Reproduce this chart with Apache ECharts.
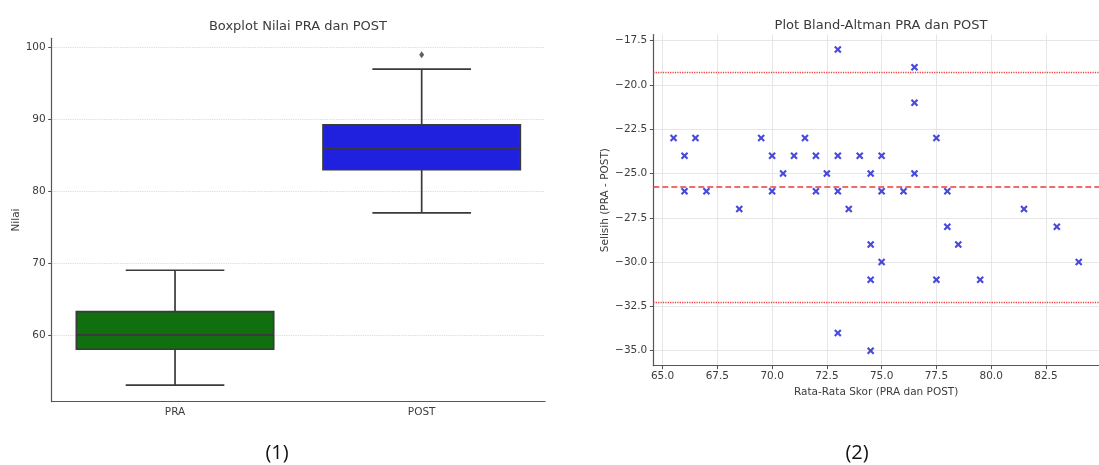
<!DOCTYPE html>
<html><head><meta charset="utf-8">
<script src="https://cdn.jsdelivr.net/npm/echarts@6/dist/echarts.min.js"></script>
<style>html,body{margin:0;padding:0;background:#fff;} #c{width:1099px;height:465px;}</style>
</head><body><div id="c"></div>
<script>
// ---- Data: boxplot (min, q1, median, q3, max) ----
const categories = ['PRA', 'POST'];
const praStats = [53, 58, 60, 63.25, 69];
const postStats = [77, 83, 86, 89.25, 97];
const postOutliers = [99];
const boxTicks = [60, 70, 80, 90, 100];

// ---- Data: Bland-Altman ----
const meanScores = [65.5, 66, 66, 66.5, 67, 68.5, 69.5, 70, 70, 70.5, 71, 71.5, 72, 72, 72.5,
  73, 73, 73, 73, 73.5, 74, 74.5, 74.5, 74.5, 74.5, 75, 75, 75, 76, 76.5, 76.5, 76.5,
  77.5, 77.5, 78, 78, 78.5, 79.5, 81.5, 83, 84];
const differences = [-23, -24, -26, -23, -26, -27, -23, -24, -26, -25, -24, -23, -24, -26, -25,
  -18, -24, -26, -34, -27, -24, -25, -29, -31, -35, -24, -26, -30, -26, -19, -21, -25,
  -23, -31, -26, -28, -29, -31, -27, -28, -30];
const meanDiff = -25.75;
const upperLimit = -19.27;
const lowerLimit = -32.27;
const xTicks = [65, 67.5, 70, 72.5, 75, 77.5, 80, 82.5];
const yTicks = [-35, -32.5, -30, -27.5, -25, -22.5, -20, -17.5];

// ---- Styles ----
const FONT = 'DejaVu Sans';
const boxColors = ['#107010', '#2020df'];
const edge = '#3a3a3a';
const axisColor = '#555';
const labelColor = '#3c3c3c';

function renderBox(params, api) {
  const cat = api.value(0);
  const band = api.size([1, 0])[0];
  const boxW = band * 0.8, capW = band * 0.4;
  const pMin = api.coord([cat, api.value(1)]);
  const pQ1 = api.coord([cat, api.value(2)]);
  const pMed = api.coord([cat, api.value(3)]);
  const pQ3 = api.coord([cat, api.value(4)]);
  const pMax = api.coord([cat, api.value(5)]);
  const cx = pMin[0];
  const ls = { stroke: edge, lineWidth: 1.7 };
  return {
    type: 'group',
    children: [
      { type: 'line', shape: { x1: cx, y1: pQ1[1], x2: cx, y2: pMin[1] }, style: ls },
      { type: 'line', shape: { x1: cx, y1: pQ3[1], x2: cx, y2: pMax[1] }, style: ls },
      { type: 'line', shape: { x1: cx - capW / 2, y1: pMin[1], x2: cx + capW / 2, y2: pMin[1] }, style: ls },
      { type: 'line', shape: { x1: cx - capW / 2, y1: pMax[1], x2: cx + capW / 2, y2: pMax[1] }, style: ls },
      { type: 'rect', shape: { x: cx - boxW / 2, y: pQ3[1], width: boxW, height: pQ1[1] - pQ3[1] },
        style: { fill: boxColors[params.dataIndex], stroke: edge, lineWidth: 1.7 } },
      { type: 'line', shape: { x1: cx - boxW / 2, y1: pMed[1], x2: cx + boxW / 2, y2: pMed[1] }, style: { stroke: edge, lineWidth: 2 } }
    ]
  };
}

const boxData = [praStats, postStats].map((s, i) => [i].concat(s));
const outlierData = postOutliers.map(v => [categories.indexOf('POST'), v]);
const baData = meanScores.map((m, i) => [m, differences[i]]);

const fmt1 = v => (v < 0 ? '\u2212' : '') + Math.abs(v).toFixed(1);

const chart = echarts.init(document.getElementById('c'), null, { renderer: 'canvas' });
chart.setOption({
  animation: false,
  backgroundColor: '#fff',
  textStyle: { fontFamily: FONT },
  grid: [
    { left: 51.7, top: 38.3, width: 493.3, height: 363.4 },
    { left: 653.3, top: 34.5, width: 455.3, height: 331.2 }
  ],
  xAxis: [
    {
      type: 'category', gridIndex: 0, data: categories, boundaryGap: true,
      axisLine: { lineStyle: { color: axisColor, width: 1.2 } },
      axisTick: { alignWithLabel: true, length: 3.5, lineStyle: { color: axisColor } },
      axisLabel: { color: labelColor, fontSize: 10.5, margin: 5, fontFamily: FONT },
      splitLine: { show: false }
    },
    {
      type: 'value', gridIndex: 1, min: 64.575, max: 84.925,
      name: 'Rata-Rata Skor (PRA dan POST)', nameLocation: 'middle', nameGap: 17,
      nameTextStyle: { color: labelColor, fontSize: 10.5, fontFamily: FONT },
      axisLine: { show: true, lineStyle: { color: axisColor, width: 1.2 } },
      axisTick: { show: true, length: 3.5, customValues: xTicks, lineStyle: { color: axisColor } },
      axisLabel: { customValues: xTicks, formatter: fmt1, color: labelColor, fontSize: 10.5, margin: 5, fontFamily: FONT },
      splitLine: { show: true, lineStyle: { color: '#e3e3e3', width: 0.9 } }
    }
  ],
  yAxis: [
    {
      type: 'value', gridIndex: 0, min: 50.7, max: 101.3,
      name: 'Nilai', nameLocation: 'middle', nameGap: 30,
      nameTextStyle: { color: labelColor, fontSize: 10.5, fontFamily: FONT },
      axisLine: { show: true, lineStyle: { color: axisColor, width: 1.2 } },
      axisTick: { show: true, length: 3.5, customValues: boxTicks, lineStyle: { color: axisColor } },
      axisLabel: { customValues: boxTicks, color: labelColor, fontSize: 10.5, margin: 6, fontFamily: FONT },
      splitLine: { show: true, lineStyle: { color: '#d4d4d4', type: 'dotted', width: 0.9 } }
    },
    {
      type: 'value', gridIndex: 1, min: -35.85, max: -17.15,
      name: 'Selisih (PRA - POST)', nameLocation: 'middle', nameGap: 42,
      nameTextStyle: { color: labelColor, fontSize: 10.5, fontFamily: FONT },
      axisLine: { show: true, lineStyle: { color: axisColor, width: 1.2 } },
      axisTick: { show: true, length: 3.5, customValues: yTicks, lineStyle: { color: axisColor } },
      axisLabel: { customValues: yTicks, formatter: fmt1, color: labelColor, fontSize: 10.5, margin: 6, fontFamily: FONT },
      splitLine: { show: true, lineStyle: { color: '#e3e3e3', width: 0.9 } }
    }
  ],
  series: [
    {
      type: 'custom', xAxisIndex: 0, yAxisIndex: 0, data: boxData,
      encode: { x: 0, y: [1, 2, 3, 4, 5] }, renderItem: renderBox, silent: true
    },
    {
      type: 'scatter', xAxisIndex: 0, yAxisIndex: 0, data: outlierData,
      symbol: 'diamond', symbolSize: [5, 7], itemStyle: { color: edge }, silent: true
    },
    {
      type: 'scatter', xAxisIndex: 1, yAxisIndex: 1, data: baData,
      symbol: 'path://M2,0 L5,3 L8,0 L10,2 L7,5 L10,8 L8,10 L5,7 L2,10 L0,8 L3,5 L0,2 Z',
      symbolSize: 7.5, itemStyle: { color: '#1c1cd2' }, silent: true,
      markLine: {
        silent: true, symbol: 'none', label: { show: false }, animation: false,
        data: [
          { yAxis: meanDiff, lineStyle: { color: '#ee3b3b', type: [6, 3], width: 1.6 } },
          { yAxis: upperLimit, lineStyle: { color: '#ee3b3b', type: [1.2, 1.2], width: 1.3 } },
          { yAxis: lowerLimit, lineStyle: { color: '#ee3b3b', type: [1.2, 1.2], width: 1.3 } }
        ]
      }
    }
  ],
  graphic: [
    { type: 'text', x: 298, y: 27, style: { text: 'Boxplot Nilai PRA dan POST', align: 'center', verticalAlign: 'middle', fontSize: 13, fontFamily: FONT, fill: '#3a3a3a' } },
    { type: 'text', x: 881, y: 26, style: { text: 'Plot Bland-Altman PRA dan POST', align: 'center', verticalAlign: 'middle', fontSize: 13, fontFamily: FONT, fill: '#3a3a3a' } },
    { type: 'text', x: 277, y: 453, style: { text: '(1)', align: 'center', verticalAlign: 'middle', fontSize: 20, fontFamily: 'Open Sans', fill: '#111' } },
    { type: 'text', x: 857, y: 453, style: { text: '(2)', align: 'center', verticalAlign: 'middle', fontSize: 20, fontFamily: 'Open Sans', fill: '#111' } }
  ]
});
</script>
</body></html>
